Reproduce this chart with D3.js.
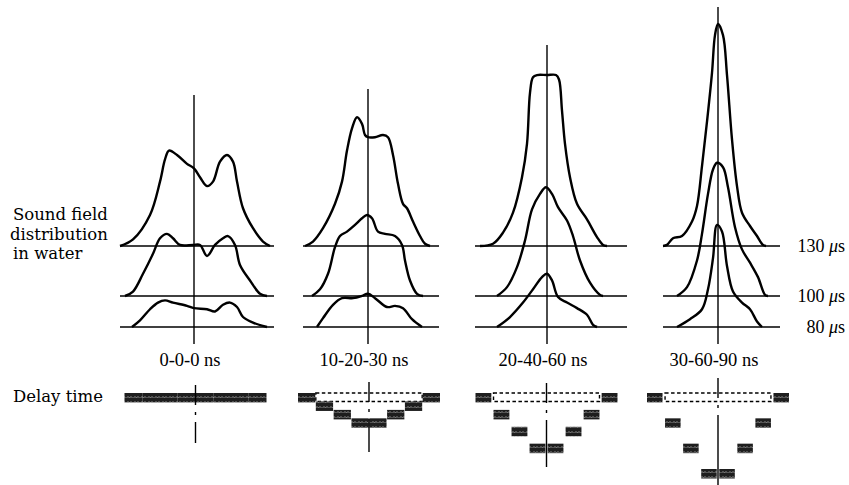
<!DOCTYPE html>
<html>
<head>
<meta charset="utf-8">
<script src="https://cdn.jsdelivr.net/npm/d3@7"></script>
<style>
  body { margin: 0; background: #fff; }
  svg { display: block; }
</style>
</head>
<body>
<svg id="chart" width="849" height="485"></svg>
<script>
// delay settings (one panel each) and the three observation times
const delayLabels = ["0-0-0 ns", "10-20-30 ns", "20-40-60 ns", "30-60-90 ns"];
const timeLabels = ["130", "100", "80"];

// delay per array element (ns), 8 elements, left to right
const delays1 = [0, 0, 0, 0, 0, 0, 0, 0];
const delays2 = [0, 10, 20, 30, 30, 20, 10, 0];
const delays3 = [0, 20, 40, 60, 60, 40, 20, 0];
const delays4 = [0, 30, 60, 90, 90, 60, 30, 0];

// sound field curves: [lateral position, relative amplitude %]
const p1_130 = [[-74,0],[-61,3],[-44,14],[-34,29],[-29,39],[-25,43],[-17,41],[-7,37],[0,35],[6,31],[13,27],[19,29],[26,38],[33,41],[39,38],[43,29],[49,17],[59,8],[69,2],[76,0]];
const p1_100 = [[-69,0],[-61,2],[-51,10],[-41,19],[-34,26],[-27,28],[-21,26],[-14,23],[-1,23],[6,23],[13,18],[21,23],[29,26],[34,27],[41,23],[46,14],[56,7],[66,1],[73,0]];
const p1_80 = [[-62,0],[-54,3],[-44,8],[-36,11],[-29,12],[-21,11],[-7,9.5],[0,8.5],[13,8],[21,7],[29,10],[36,11],[43,9],[49,4.5],[59,2],[73,0]];

const p2_130 = [[-63,0],[-55,2],[-45,8],[-33,19],[-26,29],[-21,43],[-16,53],[-11,58],[-6,55],[-3,50],[0,49],[7,49],[15,50],[20,49],[25,41],[30,28],[35,19],[39,17],[45,11],[52,4.5],[57,1],[62,0]];
const p2_100 = [[-56,0],[-48,3],[-40,10],[-33,22],[-28,27],[-21,29],[-13,32],[-6,35],[-1,36.5],[4,35],[10,29],[17,28],[27,27],[34,23],[37,16],[42,7],[49,1],[55,0]];
const p2_80 = [[-51,0],[-45,4],[-35,10],[-26,13],[-15,13],[-6,14],[0,15],[7,13],[19,9],[27,9.5],[35,8.5],[44,3.5],[54,0]];

const p3_130 = [[-67,0],[-54,1],[-44,6],[-34,15],[-25,31],[-20,46],[-17,69],[-14,76],[-10,77],[0,77],[9,77],[12,75],[15,61],[18,46],[23,31],[30,19],[40,12],[50,4],[56,0.5],[60,0]];
const p3_100 = [[-50,0],[-40,4],[-30,13],[-22,25],[-15,39],[-7,46],[-1,49],[5,46],[11,40],[20,34],[26,27],[33,16],[43,6],[53,0.5],[56,0]];
const p3_80 = [[-50,0],[-37,4.5],[-24,11],[-14,17],[-5,22.5],[0,24],[5,21],[11,13.5],[20,11],[30,8.5],[40,5.5],[46,1],[50,0]];

const p4_130 = [[-55,0],[-51,0.5],[-45,3.5],[-36,4.5],[-26,11],[-21,18],[-16,36],[-11,56],[-6,78],[-3,95],[0,100],[5,95],[9,77],[14,48],[19,27],[24,15],[32,9],[39,4.5],[45,0.5],[48,0]];
const p4_100 = [[-41,0],[-31,4],[-21,16],[-16,28],[-10,46],[-5,57],[-1,60],[5,58],[10,49],[17,31],[24,21],[32,15],[40,8.5],[47,0.5],[50,0]];
const p4_80 = [[-41,0],[-28,3.5],[-16,8],[-10,17],[-5,31],[-1,46],[4,43],[9,27.5],[15,16],[24,11],[32,8],[39,2.5],[44,0]];

const panelCurves = [[p1_130, p1_100, p1_80], [p2_130, p2_100, p2_80], [p3_130, p3_100, p3_80], [p4_130, p4_100, p4_80]];
const panelDelays = [delays1, delays2, delays3, delays4];

// layout
const svg = d3.select("#chart");
const centers = [194, 368, 547, 718];
const delayCenters = [195.5, 369, 546.5, 718];
const baselineY = [246, 296, 327];
const baseExtent = [[-74, 80], [-65, 71], [-72, 80], [-55, 62]];
const axisTop = [95, 89, 45, 7];
const delayAxis = [[385, 443], [382, 452], [383, 467], [378, 485]];
const blockPad = [0, 0.03, 0.12, 0.14];

const yAmp = d3.scaleLinear().domain([0, 100]).range([0, 222]);
const yDelay = d3.scaleLinear().domain([0, 90]).range([393, 469]);

// speckled fill for the transducer elements
const defs = svg.append("defs");
const pat = defs.append("pattern")
  .attr("id", "speckle")
  .attr("patternUnits", "userSpaceOnUse")
  .attr("width", 7).attr("height", 5);
pat.append("rect").attr("width", 7).attr("height", 5).attr("fill", "#1e1e1e");
pat.append("path")
  .attr("d", "M0.5,3 l1.5,-1.5 l1.5,1.5 l1.5,-1.5 l1.5,1.5")
  .attr("fill", "none").attr("stroke", "#aaa").attr("stroke-width", 0.8);

const serif = "'Liberation Serif', 'Times New Roman', serif";
const wide = "'DejaVu Serif', serif";

panelCurves.forEach((curves, i) => {
  const c = centers[i];
  const x = d3.scaleLinear().domain([-80, 80]).range([c - 80, c + 80]);
  const g = svg.append("g");

  // baselines
  baselineY.forEach(by => {
    g.append("line")
      .attr("x1", x(baseExtent[i][0])).attr("x2", x(baseExtent[i][1]))
      .attr("y1", by).attr("y2", by)
      .attr("stroke", "#000").attr("stroke-width", 1.4);
  });

  // center axis
  g.append("line")
    .attr("x1", x(0)).attr("x2", x(0))
    .attr("y1", axisTop[i]).attr("y2", 344)
    .attr("stroke", "#000").attr("stroke-width", 1.4);

  // distributions
  curves.forEach((pts, k) => {
    const line = d3.line()
      .x(d => x(d[0]))
      .y(d => Math.min(baselineY[k], baselineY[k] - yAmp(d[1])))
      .curve(d3.curveCatmullRom.alpha(0.5));
    g.append("path")
      .attr("d", line(pts))
      .attr("fill", "none")
      .attr("stroke", "#000")
      .attr("stroke-width", 2.4)
      .attr("stroke-linejoin", "round");
  });

  g.append("text")
    .attr("x", c - 4).attr("y", 366)
    .attr("text-anchor", "middle")
    .style("font-family", serif).style("font-size", "18.5px")
    .text(delayLabels[i]);

  // delay profile
  const dc = delayCenters[i];
  const xb = d3.scaleBand().domain(d3.range(8)).range([dc - 71, dc + 71]).paddingInner(blockPad[i]);
  const del = panelDelays[i];

  if (d3.max(del) > 0) {
    g.append("rect")
      .attr("x", xb(1)).attr("y", yDelay(0))
      .attr("width", xb(6) + xb.bandwidth() - xb(1))
      .attr("height", 8.5)
      .attr("fill", "none").attr("stroke", "#000")
      .attr("stroke-width", 1.4).attr("stroke-dasharray", "3.5,2.5");
  }

  g.selectAll(".blk")
    .data(del)
    .enter()
    .append("rect")
    .attr("x", (d, j) => xb(j))
    .attr("y", d => yDelay(d))
    .attr("width", xb.bandwidth())
    .attr("height", 9.5)
    .attr("fill", "url(#speckle)");

  g.append("line")
    .attr("x1", dc).attr("x2", dc)
    .attr("y1", delayAxis[i][0]).attr("y2", delayAxis[i][1])
    .attr("stroke", "#000").attr("stroke-width", 1.4)
    .attr("stroke-dasharray", "20,7,3,7,400");
});

// observation time labels (italic mu, as in the figure)
timeLabels.forEach((t, k) => {
  const tx = svg.append("text")
    .attr("x", 845).attr("y", baselineY[k] + 6)
    .attr("text-anchor", "end")
    .style("font-family", serif).style("font-size", "18px");
  tx.append("tspan").text(t + " ");
  tx.append("tspan").style("font-style", "italic").text("\u03bc");
  tx.append("tspan").text("s");
});

// left-hand titles
svg.append("text")
  .attr("x", 12).attr("y", 220)
  .style("font-family", wide).style("font-size", "16.5px")
  .selectAll("tspan")
  .data(["Sound field", "distribution", "in water"])
  .enter()
  .append("tspan")
  .attr("x", (d, j) => j === 1 ? 10 : 13)
  .attr("dy", (d, j) => j === 0 ? 0 : 19.5)
  .text(d => d);

svg.append("text")
  .attr("x", 13).attr("y", 402)
  .style("font-family", wide).style("font-size", "16.5px")
  .text("Delay time");
</script>
</body>
</html>
